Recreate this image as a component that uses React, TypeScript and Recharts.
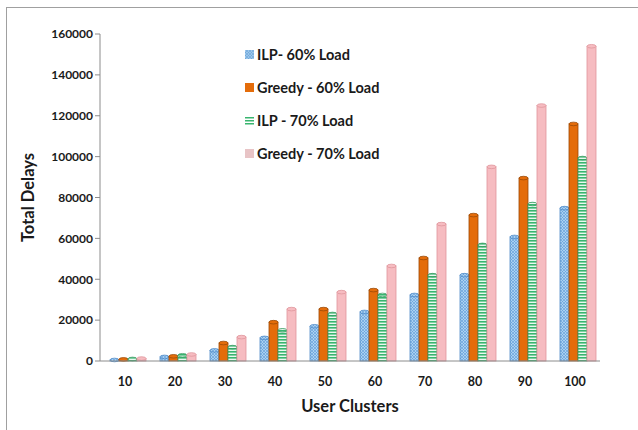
import { BarChart, Bar, XAxis, YAxis } from 'recharts'

const clusters = ['10', '20', '30', '40', '50', '60', '70', '80', '90', '100']
const ilp60 = [500, 2000, 5200, 11300, 17000, 24000, 32300, 42000, 60700, 74800]
const greedy60 = [800, 2300, 8800, 19000, 25400, 34700, 50400, 71400, 89500, 116000]
const ilp70 = [1000, 2800, 6800, 15000, 23000, 32300, 42000, 56800, 76800, 99300]
const greedy70 = [1200, 3200, 11700, 25400, 33700, 46500, 67000, 95000, 125000, 154000]
const yTicks = [0, 20000, 40000, 60000, 80000, 100000, 120000, 140000, 160000]

const series = [
  { key: 'ilp60', name: 'ILP- 60% Load', fill: 'url(#patBlue)', stroke: '#4f8cc9', swatch: 'url(#patBlueL)' },
  { key: 'greedy60', name: 'Greedy - 60% Load', fill: '#e46c0a', stroke: '#9c4a06', swatch: '#e46c0a' },
  { key: 'ilp70', name: 'ILP - 70% Load', fill: 'url(#patGreen)', stroke: '#3a9a62', swatch: 'url(#patGreenL)' },
  { key: 'greedy70', name: 'Greedy - 70% Load', fill: '#f6bcc1', stroke: '#e0959c', swatch: '#e8c4c6' },
]

const data = clusters.map((c, i) => ({
  cluster: c,
  ilp60: ilp60[i],
  greedy60: greedy60[i],
  ilp70: ilp70[i],
  greedy70: greedy70[i],
}))

const FONT = 'Lato, "Open Sans", sans-serif'

// bar with a small rounded cap, like the excel 3d cylinders
function Cyl(props: any) {
  const { x, y, width, height, fill, stroke } = props
  if (!height || height <= 0) return null
  const cx = x + 3
  return (
    <g>
      <rect x={cx} y={y} width={width} height={height} fill={fill} stroke={stroke} strokeWidth={0.8} />
      <ellipse cx={cx + width / 2} cy={y} rx={width / 2} ry={1.8} fill={fill} stroke={stroke} strokeWidth={0.8} />
    </g>
  )
}

export default function App() {
  return (
    <div style={{ position: 'fixed', left: 0, top: 0, width: 638, height: 430, background: '#fff' }}>
      <div
        style={{
          position: 'absolute',
          left: 6,
          top: 7,
          width: 640,
          height: 430,
          borderTop: '1.5px solid #a0a0a0',
          borderLeft: '1.5px solid #a0a0a0',
        }}
      />
      <div style={{ position: 'absolute', left: 0, top: 0 }}>
        <BarChart
          width={638}
          height={430}
          data={data}
          margin={{ top: 34, right: 38, left: 0, bottom: 0 }}
          barSize={9}
          barGap={0}
        >
          <defs>
            <pattern id="patBlue" width="3" height="3" patternUnits="userSpaceOnUse">
              <rect width="3" height="3" fill="#a9d1f2" />
              <path d="M0 0 L3 3 M3 0 L0 3" stroke="#5f9bd6" strokeWidth="0.6" />
            </pattern>
            <pattern id="patGreen" width="4" height="3" patternUnits="userSpaceOnUse">
              <rect width="4" height="3" fill="#e9f8ef" />
              <rect width="4" height="1.6" fill="#39b56f" />
            </pattern>
          </defs>
          <XAxis
            dataKey="cluster"
            height={69}
            axisLine={{ stroke: '#8c8c8c' }}
            tickLine={false}
            tick={{ fontFamily: FONT, fontWeight: 700, fontSize: 12.5, fill: '#1a1a1a', dy: 8 }}
            label={{
              value: 'User Clusters',
              position: 'insideBottom',
              offset: 18,
              style: { fontFamily: FONT, fontWeight: 700, fontSize: 16.5, fill: '#1a1a1a' },
            }}
          />
          <YAxis
            width={100}
            domain={[0, 160000]}
            ticks={yTicks}
            interval={0}
            axisLine={{ stroke: '#8c8c8c' }}
            tickLine={{ stroke: '#8c8c8c' }}
            tickSize={5}
            tick={{ fontFamily: FONT, fontWeight: 700, fontSize: 12, fill: '#1a1a1a' }}
            label={{
              value: 'Total Delays',
              angle: -90,
              position: 'insideLeft',
              offset: 28,
              style: { fontFamily: FONT, fontWeight: 700, fontSize: 16.5, fill: '#1a1a1a', textAnchor: 'middle' },
            }}
          />
          {series.map((s) => (
            <Bar
              key={s.key}
              dataKey={s.key}
              name={s.name}
              fill={s.fill}
              stroke={s.stroke}
              shape={<Cyl />}
              isAnimationActive={false}
            />
          ))}
        </BarChart>
      </div>
      <svg width={180} height={120} style={{ position: 'absolute', left: 244, top: 45 }}>
        <defs>
          <pattern id="patBlueL" width="3" height="3" patternUnits="userSpaceOnUse">
            <rect width="3" height="3" fill="#9cc7ea" />
            <path d="M0 0 L3 3 M3 0 L0 3" stroke="#6aa2d8" strokeWidth="0.6" />
          </pattern>
          <pattern id="patGreenL" width="4" height="3" patternUnits="userSpaceOnUse">
            <rect width="4" height="3" fill="#ffffff" />
            <rect width="4" height="1.5" fill="#39b56f" />
          </pattern>
        </defs>
        {series.map((s, i) => (
          <g key={s.key} transform={`translate(0, ${i * 33})`}>
            <rect x={1} y={5} width={9} height={9} fill={s.swatch} />
            <text x={13} y={15} fontFamily={FONT} fontWeight={700} fontSize={14.5} fill="#1a1a1a">
              {s.name}
            </text>
          </g>
        ))}
      </svg>
    </div>
  )
}
